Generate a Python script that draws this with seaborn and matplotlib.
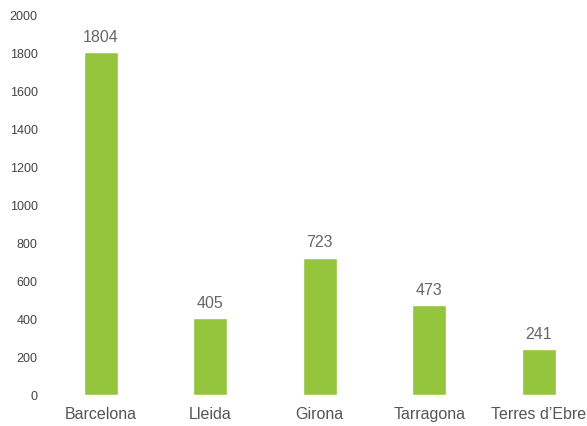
import matplotlib
matplotlib.use("Agg")
import matplotlib.pyplot as plt
import seaborn as sns
import pandas as pd

regions = ["Barcelona", "Lleida", "Girona", "Tarragona", "Terres d\u2019Ebre"]
counts = [1804, 405, 723, 473, 241]
y_ticks = [0, 200, 400, 600, 800, 1000, 1200, 1400, 1600, 1800, 2000]

sns.set_style("white")
plt.rcParams["font.family"] = ["Liberation Sans", "DejaVu Sans"]

df = pd.DataFrame({"region": regions, "count": counts})

fig = plt.figure(figsize=(5.87, 4.27), dpi=100)
ax = fig.add_axes([46 / 587, 31 / 427, 1 - 46 / 587, (396 - 16) / 427])

sns.barplot(data=df, x="region", y="count", color="#95C43D", saturation=1,
            width=0.31, ax=ax)

ax.set_ylim(0, 2000)
ax.set_xlim(-0.5, 4.44)
ax.set_yticks(y_ticks)
ax.set_yticklabels([str(t) for t in y_ticks])
ax.tick_params(axis="y", length=0, pad=6, labelsize=9, labelcolor="#444444")
ax.tick_params(axis="x", length=0, pad=8, labelsize=11.5, labelcolor="#555555")
ax.set_xlabel("")
ax.set_ylabel("")
for side in ax.spines.values():
    side.set_visible(False)

for i, v in enumerate(counts):
    ax.annotate(str(v), xy=(i, v), xytext=(0, 6), textcoords="offset points",
                ha="center", va="bottom", fontsize=11.5, color="#666666")

fig.savefig("out.png", dpi=100)
